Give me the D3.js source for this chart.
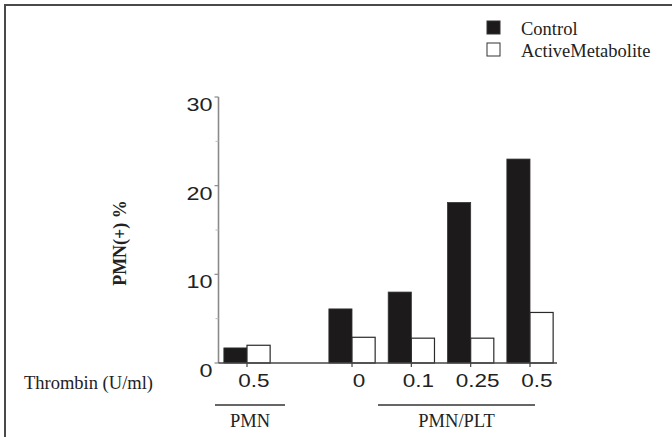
<!DOCTYPE html>
<html>
<head>
<meta charset="utf-8">
<script src="https://cdn.jsdelivr.net/npm/d3@7"></script>
<style>
  html, body { margin: 0; padding: 0; background: #fff; }
  svg { display: block; }
</style>
</head>
<body>
<svg id="chart" width="672" height="437"></svg>
<script>
// ---- data ----
const thrombin = ["0.5", "0", "0.1", "0.25", "0.5"];
const cellGroups = ["PMN", "PMN/PLT", "PMN/PLT", "PMN/PLT", "PMN/PLT"];
const control = [1.7, 6.1, 8.0, 18.1, 23.0];
const activeMetabolite = [2.0, 2.9, 2.8, 2.8, 5.7];
const yTicks = [0, 10, 20, 30];
const yMinorTicks = [5, 15, 25];
const seriesNames = ["Control", "ActiveMetabolite"];

// ---- layout ----
const W = 672, H = 437;
const svg = d3.select("#chart");
const serif = "'Liberation Serif','Times New Roman',serif";
const sans = "'Liberation Sans',Arial,Helvetica,sans-serif";
const gapExtra = 0.77; // extra space between PMN group and PMN/PLT groups (in slots)
const slot = i => i + (i > 0 ? gapExtra : 0);

const x = d3.scaleLinear().domain([0, 4 + gapExtra]).range([247, 530]);
const y = d3.scaleLinear().domain([0, 30]).range([363, 97]);
const barW = x(0.39) - x(0);

// frame
svg.append("rect").attr("width", W).attr("height", H).attr("fill", "#fff");
svg.append("path").attr("d", `M5,437 V5 H672`).attr("fill", "none")
  .attr("stroke", "#4a4a4a").attr("stroke-width", 2);

// bars
const g = svg.append("g");
thrombin.forEach((t, i) => {
  const cx = x(slot(i));
  g.append("rect")
    .attr("x", cx - barW).attr("y", y(control[i]))
    .attr("width", barW).attr("height", y(0) - y(control[i]))
    .attr("fill", "#1c1a1b").attr("stroke", "#333").attr("stroke-width", 0.8);
  g.append("rect")
    .attr("x", cx).attr("y", y(activeMetabolite[i]))
    .attr("width", barW).attr("height", y(0) - y(activeMetabolite[i]))
    .attr("fill", "#fff").attr("stroke", "#2a2a2a").attr("stroke-width", 1.2);
});

// y axis
const yAxisX = 218.5;
svg.append("line").attr("x1", yAxisX).attr("x2", yAxisX)
  .attr("y1", y(30)).attr("y2", y(0))
  .attr("stroke", "#8a8a8a").attr("stroke-width", 1.6);
yTicks.forEach(v => {
  svg.append("line").attr("x1", yAxisX - 4).attr("x2", yAxisX)
    .attr("y1", y(v)).attr("y2", y(v)).attr("stroke", "#8a8a8a").attr("stroke-width", 1.2);
  svg.append("text")
    .attr("transform", `translate(${yAxisX - 6},${y(v) + 14}) scale(1.3,1)`)
    .attr("text-anchor", "end")
    .attr("font-family", sans).attr("font-size", 18).attr("fill", "#222")
    .text(v);
});
yMinorTicks.forEach(v => {
  svg.append("line").attr("x1", yAxisX - 3).attr("x2", yAxisX)
    .attr("y1", y(v)).attr("y2", y(v)).attr("stroke", "#bbb").attr("stroke-width", 1);
});

// x axis
svg.append("line").attr("x1", yAxisX).attr("x2", 557)
  .attr("y1", y(0)).attr("y2", y(0))
  .attr("stroke", "#444").attr("stroke-width", 1.6);
thrombin.forEach((t, i) => {
  const cx = x(slot(i));
  svg.append("line").attr("x1", cx).attr("x2", cx)
    .attr("y1", y(0)).attr("y2", y(0) + 4).attr("stroke", "#444").attr("stroke-width", 1.2);
  svg.append("text")
    .attr("transform", `translate(${cx + 7},${y(0) + 24}) scale(1.25,1)`)
    .attr("text-anchor", "middle")
    .attr("font-family", sans).attr("font-size", 18).attr("fill", "#222")
    .text(t);
});

// group brackets
const groupNames = Array.from(new Set(cellGroups));
groupNames.forEach(name => {
  const idx = cellGroups.map((c, i) => c === name ? i : -1).filter(i => i >= 0);
  const first = x(slot(idx[0])), last = x(slot(idx[idx.length - 1]));
  let x0, x1, xm;
  if (idx.length > 1) { x0 = first + 26; x1 = last + 5; xm = (x0 + x1) / 2 + 0; }
  else { x0 = first - 32; x1 = first + 38; xm = (x0 + x1) / 2; }
  svg.append("line").attr("x1", x0).attr("x2", x1)
    .attr("y1", 405).attr("y2", 405).attr("stroke", "#333").attr("stroke-width", 1.4);
  svg.append("text").attr("x", xm).attr("y", 427)
    .attr("text-anchor", "middle").attr("font-family", serif).attr("font-size", 18.5)
    .attr("fill", "#222").text(name);
});

// Thrombin label
svg.append("text").attr("x", 24).attr("y", 389)
  .attr("font-family", serif).attr("font-size", 18.5).attr("fill", "#222")
  .text("Thrombin (U/ml)");

// y axis title
svg.append("text")
  .attr("transform", `translate(126,243) rotate(-90)`)
  .attr("text-anchor", "middle")
  .attr("font-family", serif).attr("font-size", 18).attr("font-weight", "bold").attr("fill", "#222")
  .text("PMN(+) %");

// legend
const legendFills = ["#1c1a1b", "#fff"];
seriesNames.forEach((s, i) => {
  const ly = 21 + i * 22;
  svg.append("rect").attr("x", 487).attr("y", ly).attr("width", 13).attr("height", 13)
    .attr("fill", legendFills[i]).attr("stroke", "#333").attr("stroke-width", 1);
  svg.append("text").attr("x", 521).attr("y", ly + 14)
    .attr("font-family", serif).attr("font-size", 18.5).attr("fill", "#222")
    .text(s);
});
</script>
</body>
</html>
